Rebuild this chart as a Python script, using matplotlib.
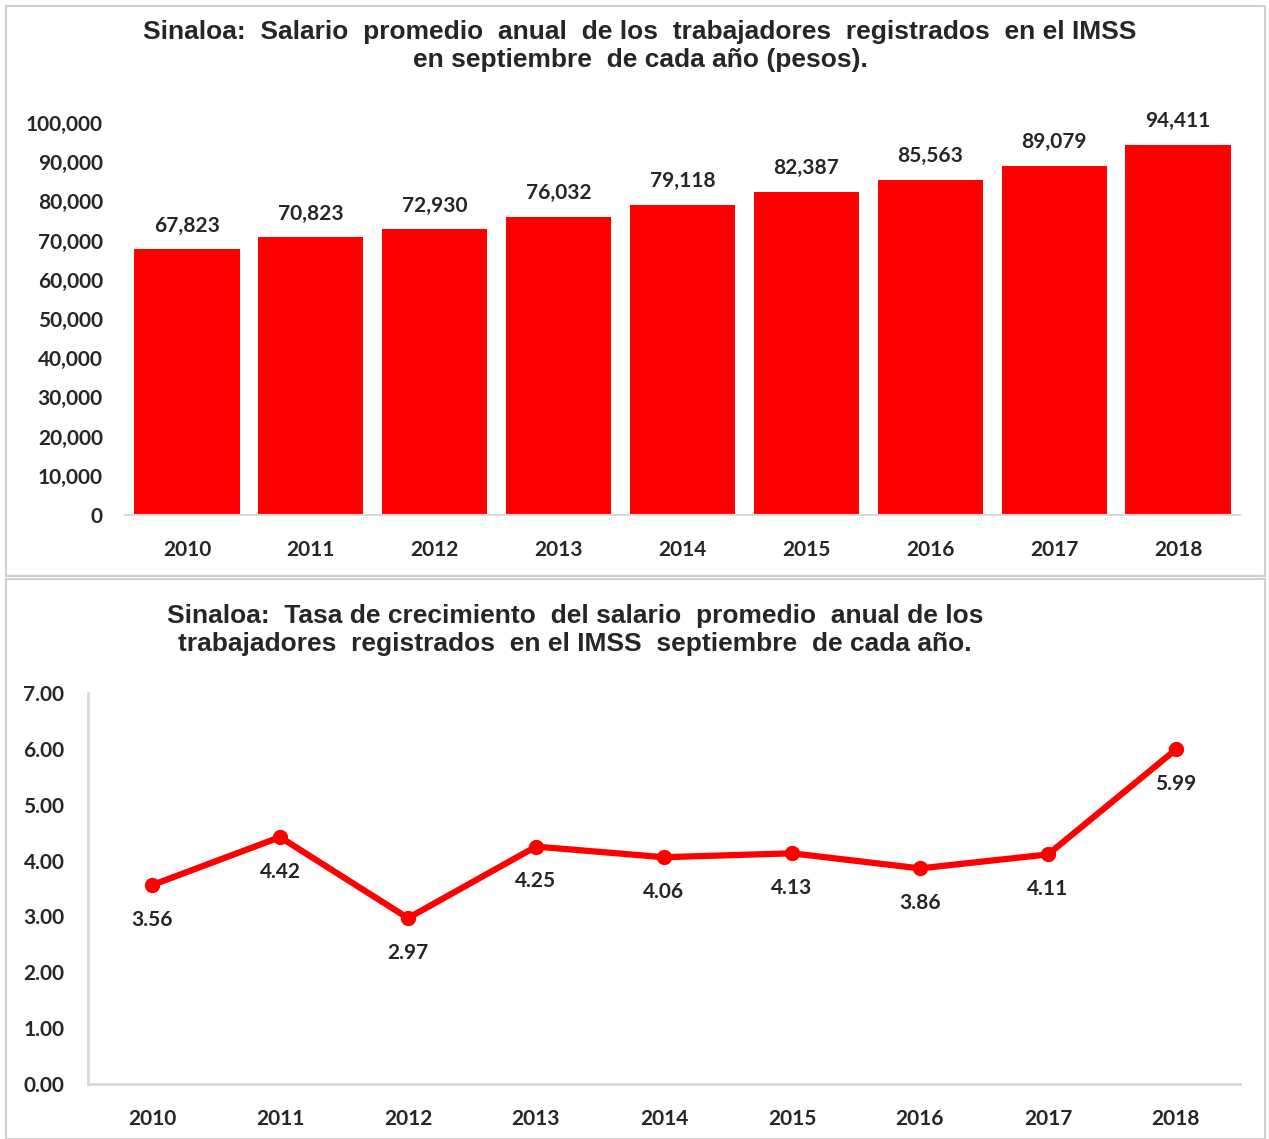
import numpy as np
import matplotlib
matplotlib.use("Agg")
import matplotlib.pyplot as plt
from matplotlib.patches import Rectangle

years = ["2010", "2011", "2012", "2013", "2014", "2015", "2016", "2017", "2018"]
salario = [67823, 70823, 72930, 76032, 79118, 82387, 85563, 89079, 94411]
tasa = [3.56, 4.42, 2.97, 4.25, 4.06, 4.13, 3.86, 4.11, 5.99]

titulo1 = "Sinaloa:  Salario  promedio  anual  de los  trabajadores  registrados  en el IMSS\nen septiembre  de cada año (pesos)."
titulo2 = "Sinaloa:  Tasa de crecimiento  del salario  promedio  anual de los\ntrabajadores  registrados  en el IMSS  septiembre  de cada año."

rojo = "#ff0000"
gris_txt = "#262626"
gris_eje = "#d9d9d9"
fuente_tick = ["Lato", "DejaVu Sans"]
fuente_tit = ["Liberation Sans", "DejaVu Sans"]

W, H = 1269, 1139
fig = plt.figure(figsize=(W / 100, H / 100), dpi=100)

# marcos de los dos paneles
fig.patches.append(Rectangle((6 / W, 1 - 576 / H), 1259 / W, 570 / H, transform=fig.transFigure,
                             fill=False, edgecolor="#d0d0d0", linewidth=1.5))
fig.patches.append(Rectangle((6 / W, 0), 1259 / W, 1 - 579 / H, transform=fig.transFigure,
                             fill=False, edgecolor="#d0d0d0", linewidth=1.5))

x = np.arange(len(years))

# ===== grafica de barras =====
ax1 = fig.add_axes([125 / W, 1 - 515 / H, 1115 / W, 392 / H])
ax1.bar(x, salario, width=0.85, color=rojo)
ax1.set_xlim(-0.5, len(years) - 0.5)
ax1.set_ylim(0, 100000)
ax1.set_yticks(np.arange(0, 100001, 10000))
ax1.set_yticklabels(["{:,}".format(v) for v in range(0, 100001, 10000)])
ax1.set_xticks(x)
ax1.set_xticklabels(years)
for s in ["top", "right", "left"]:
    ax1.spines[s].set_visible(False)
ax1.spines["bottom"].set_color(gris_eje)
ax1.spines["bottom"].set_linewidth(1.5)
ax1.tick_params(length=0, colors=gris_txt, labelsize=15)
ax1.tick_params(axis="x", pad=18)
ax1.tick_params(axis="y", pad=16)
for lab in ax1.get_xticklabels() + ax1.get_yticklabels():
    lab.set_family(fuente_tick)
    lab.set_fontweight("bold")
for i, v in enumerate(salario):
    ax1.annotate("{:,}".format(v), (x[i], v), xytext=(0, 17), textcoords="offset points",
                 ha="center", va="center", fontsize=15, fontweight="bold",
                 family=fuente_tick, color=gris_txt, annotation_clip=False)
fig.text(640 / W, 1 - 46 / H, titulo1, ha="center", va="center", fontsize=19,
         fontweight="bold", family=fuente_tit, color=gris_txt, linespacing=1.2)

# ===== grafica de linea =====
ax2 = fig.add_axes([88 / W, 1 - 1084 / H, 1152 / W, 391 / H])
ax2.plot(x, tasa, color=rojo, linewidth=4.5, marker="o", markersize=10, solid_capstyle="round")
ax2.set_xlim(-0.5, len(years) - 0.5)
ax2.set_ylim(0, 7)
ax2.set_yticks(np.arange(0, 8))
ax2.set_yticklabels(["{:.2f}".format(v) for v in range(8)])
ax2.set_xticks(x)
ax2.set_xticklabels(years)
for s in ["top", "right"]:
    ax2.spines[s].set_visible(False)
for s in ["bottom", "left"]:
    ax2.spines[s].set_color(gris_eje)
    ax2.spines[s].set_linewidth(2)
ax2.tick_params(length=0, colors=gris_txt, labelsize=15)
ax2.tick_params(axis="x", pad=18)
ax2.tick_params(axis="y", pad=17)
for lab in ax2.get_xticklabels() + ax2.get_yticklabels():
    lab.set_family(fuente_tick)
    lab.set_fontweight("bold")
for i, v in enumerate(tasa):
    ax2.annotate("{:.2f}".format(v), (x[i], v), xytext=(0, -25), textcoords="offset points",
                 ha="center", va="center", fontsize=15, fontweight="bold",
                 family=fuente_tick, color=gris_txt, annotation_clip=False)
fig.text(575 / W, 1 - 630 / H, titulo2, ha="center", va="center", fontsize=19,
         fontweight="bold", family=fuente_tit, color=gris_txt, linespacing=1.2)

fig.savefig("out.png", dpi=100)
